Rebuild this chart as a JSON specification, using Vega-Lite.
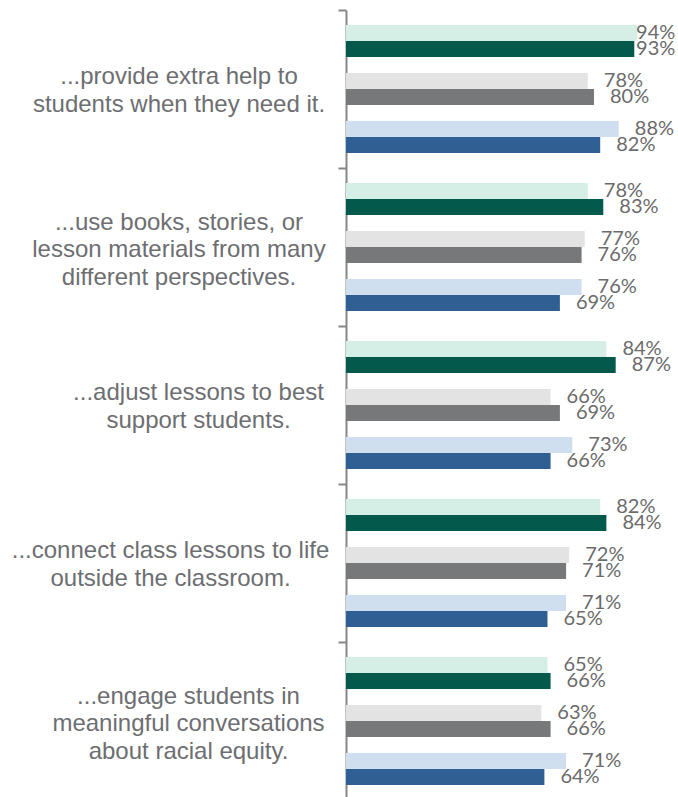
{
  "$schema": "https://vega.github.io/schema/vega-lite/v6.json",
  "autosize": {"type": "none"},
  "width": 332,
  "height": 790,
  "padding": {"left": 346, "top": 10, "right": 0, "bottom": 0},
  "background": "white",
  "config": {"view": {"stroke": null}},
  "data": {
    "values": [
      {"category": "...provide extra help to|students when they need it.", "series": "A1", "value": 94},
      {"category": "...provide extra help to|students when they need it.", "series": "A2", "value": 93},
      {"category": "...provide extra help to|students when they need it.", "series": "B1", "value": 78},
      {"category": "...provide extra help to|students when they need it.", "series": "B2", "value": 80},
      {"category": "...provide extra help to|students when they need it.", "series": "C1", "value": 88},
      {"category": "...provide extra help to|students when they need it.", "series": "C2", "value": 82},
      {"category": "...use books, stories, or|lesson materials from many|different perspectives.", "series": "A1", "value": 78},
      {"category": "...use books, stories, or|lesson materials from many|different perspectives.", "series": "A2", "value": 83},
      {"category": "...use books, stories, or|lesson materials from many|different perspectives.", "series": "B1", "value": 77},
      {"category": "...use books, stories, or|lesson materials from many|different perspectives.", "series": "B2", "value": 76},
      {"category": "...use books, stories, or|lesson materials from many|different perspectives.", "series": "C1", "value": 76},
      {"category": "...use books, stories, or|lesson materials from many|different perspectives.", "series": "C2", "value": 69},
      {"category": "...adjust lessons to best|support students.", "series": "A1", "value": 84},
      {"category": "...adjust lessons to best|support students.", "series": "A2", "value": 87},
      {"category": "...adjust lessons to best|support students.", "series": "B1", "value": 66},
      {"category": "...adjust lessons to best|support students.", "series": "B2", "value": 69},
      {"category": "...adjust lessons to best|support students.", "series": "C1", "value": 73},
      {"category": "...adjust lessons to best|support students.", "series": "C2", "value": 66},
      {"category": "...connect class lessons to life|outside the classroom.", "series": "A1", "value": 82},
      {"category": "...connect class lessons to life|outside the classroom.", "series": "A2", "value": 84},
      {"category": "...connect class lessons to life|outside the classroom.", "series": "B1", "value": 72},
      {"category": "...connect class lessons to life|outside the classroom.", "series": "B2", "value": 71},
      {"category": "...connect class lessons to life|outside the classroom.", "series": "C1", "value": 71},
      {"category": "...connect class lessons to life|outside the classroom.", "series": "C2", "value": 65},
      {"category": "...engage students in|meaningful conversations|about racial equity.", "series": "A1", "value": 65},
      {"category": "...engage students in|meaningful conversations|about racial equity.", "series": "A2", "value": 66},
      {"category": "...engage students in|meaningful conversations|about racial equity.", "series": "B1", "value": 63},
      {"category": "...engage students in|meaningful conversations|about racial equity.", "series": "B2", "value": 66},
      {"category": "...engage students in|meaningful conversations|about racial equity.", "series": "C1", "value": 71},
      {"category": "...engage students in|meaningful conversations|about racial equity.", "series": "C2", "value": 64}
    ]
  },
  "transform": [
    {"calculate": "min(datum.value, 88.4)", "as": "labelPos"},
    {"calculate": "datum.value + '%'", "as": "label"}
  ],
  "encoding": {
    "y": {
      "field": "category",
      "type": "nominal",
      "sort": null,
      "scale": {"paddingInner": 0, "paddingOuter": 0},
      "axis": {
        "title": null,
        "domainColor": "#878787",
        "domainWidth": 2,
        "tickColor": "#878787",
        "tickWidth": 2,
        "tickSize": 8,
        "tickBand": "extent",
        "labelExpr": "isValid(datum.value) ? split(datum.value, '|') : ''",
        "labelFont": "Liberation Sans",
        "labelFontSize": 24,
        "labelLineHeight": 27.5,
        "labelColor": "#6d6e71",
        "labelAlign": "center",
        "labelBaseline": "middle",
        "labelLimit": 0,
        "labelPadding": {
          "condition": [
            {"test": "isValid(datum.value) && indexof(datum.value, 'adjust') >= 0", "value": 140},
            {"test": "isValid(datum.value) && indexof(datum.value, 'connect') >= 0", "value": 168},
            {"test": "isValid(datum.value) && indexof(datum.value, 'engage') >= 0", "value": 150}
          ],
          "value": 159.5
        },
        "labelOffset": {
          "condition": [
            {"test": "isValid(datum.value) && (indexof(datum.value, 'books') >= 0 || indexof(datum.value, 'engage') >= 0)", "value": -25}
          ],
          "value": -12.5
        }
      }
    },
    "yOffset": {
      "field": "series",
      "type": "nominal",
      "scale": {
        "domain": ["A1", "A2", "gap1", "B1", "B2", "gap2", "C1", "C2"],
        "paddingInner": 0,
        "paddingOuter": 0.9375
      }
    }
  },
  "layer": [
    {
      "mark": {"type": "bar"},
      "encoding": {
        "x": {
          "field": "value",
          "type": "quantitative",
          "scale": {"domain": [0, 107.1], "nice": false, "zero": true},
          "axis": null
        },
        "color": {
          "field": "series",
          "type": "nominal",
          "scale": {
            "domain": ["A1", "A2", "B1", "B2", "C1", "C2"],
            "range": ["#d5eee6", "#035a4c", "#e3e3e3", "#77787a", "#d0dfef", "#305f93"]
          },
          "legend": null
        }
      }
    },
    {
      "mark": {"type": "text", "align": "left", "baseline": "middle", "dx": 16, "font": "Lato", "fontSize": 20, "color": "#6b6b6b"},
      "encoding": {
        "x": {"field": "labelPos", "type": "quantitative"},
        "text": {"field": "label", "type": "nominal"}
      }
    }
  ]
}
